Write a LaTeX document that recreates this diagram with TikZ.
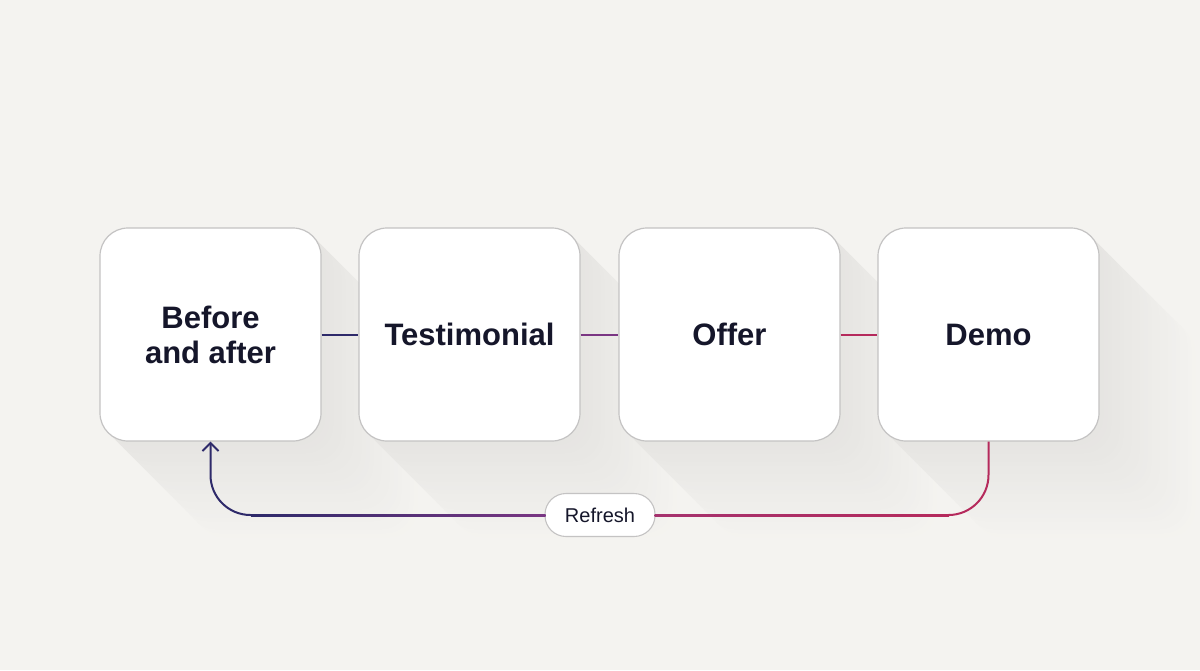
\documentclass[tikz,border=0pt]{standalone}
\usepackage{fontspec}
\setmainfont{Liberation Sans}
\usetikzlibrary{arrows.meta,calc}
\definecolor{bg}{HTML}{F4F3F0}
\definecolor{ink}{HTML}{15162A}
\definecolor{boxline}{HTML}{C4C3C3}
\definecolor{cA}{HTML}{2E2A6A}
\definecolor{cB}{HTML}{7A3683}
\definecolor{cC}{HTML}{A5326E}
\definecolor{cD}{HTML}{B52A5C}
\tikzset{
  card/.style={draw=boxline, line width=1.2pt, fill=white, rounded corners=28pt,
    minimum width=221pt, minimum height=213pt, inner sep=0pt, align=center,
    text=ink, font=\fontsize{31}{35}\selectfont\bfseries},
  pill/.style={draw=boxline, line width=1.1pt, fill=white, rounded corners=21pt,
    minimum width=110pt, minimum height=43pt, inner sep=0pt, text=ink,
    font=\fontsize{20}{24}\selectfont},
  link/.style={line width=2pt},
  shadowbox/.style={rounded corners=28pt}
}
\begin{document}
\begin{tikzpicture}[x=1pt,y=-1pt]
\fill[bg] (0,0) rectangle (1200,670);
\useasboundingbox (0,0) rectangle (1200,670);
% shadows
\foreach \cx in {210.5,469.5,729.5,988.5}{
  \foreach \k in {96,92,...,4}{
    \pgfmathsetmacro{\p}{6*(1-\k/100)}
    \fill[shadowbox, black!\p!bg] (\cx-110.5+\k,228+\k) rectangle (\cx+110.5+\k,441+\k);
  }
}
% cards
\node[card] (b1) at (210.5,334.5) {Before\\and after};
\node[card] (b2) at (469.5,334.5) {Testimonial};
\node[card] (b3) at (729.5,334.5) {Offer};
\node[card] (b4) at (988.5,334.5) {Demo};
\node[pill] (rf) at (600,515) {Refresh};
% connectors between cards
\draw[link, cA] (b1.east) -- (b2.west);
\draw[link, cB] (b2.east) -- (b3.west);
\draw[link, cD] (b3.east) -- (b4.west);
% return path
\draw[link, cD, rounded corners=40pt] (b4.south) |- (rf.east);
\draw[link, cA, rounded corners=40pt, -{Straight Barb[length=8pt,width=16pt,line width=2pt]}] (rf.west) -| (b1.south);
% gradient overlays on the horizontal runs
\shade[left color=cA, right color=cB] (251,514) rectangle (545.5,516);
\shade[left color=cC, right color=cD] (654.5,514) rectangle (949,516);
\end{tikzpicture}
\end{document}
